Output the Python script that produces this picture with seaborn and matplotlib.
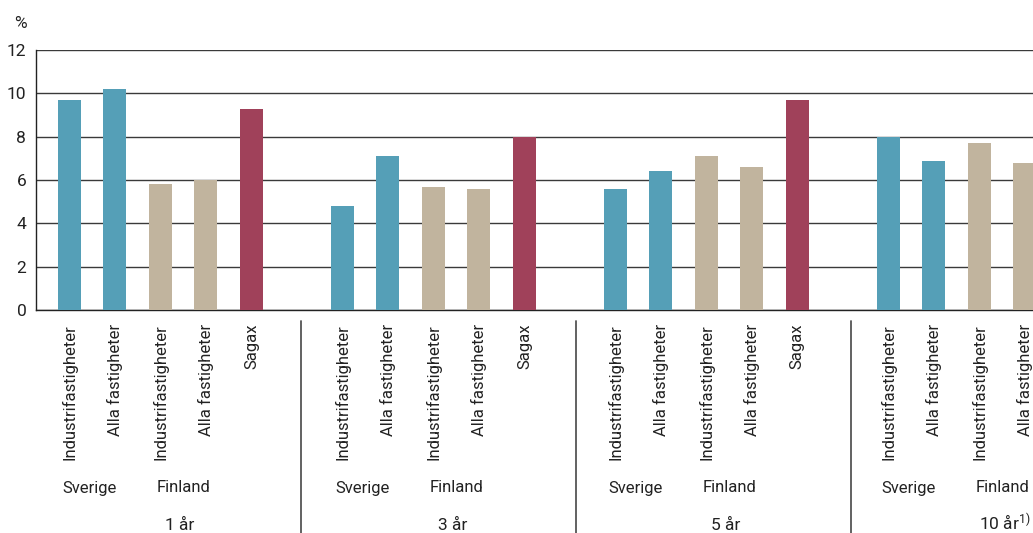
import numpy as np
import pandas as pd
import matplotlib
matplotlib.use("Agg")
import matplotlib.pyplot as plt
import matplotlib.transforms as mtransforms
import seaborn as sns

# ---- data ----
periods = ["1 år", "3 år", "5 år", "10 år"]
bar_labels = ["Industrifastigheter", "Alla fastigheter", "Industrifastigheter", "Alla fastigheter", "Sagax"]
bar_kinds = ["Sverige", "Sverige", "Finland", "Finland", "Sagax"]
values_1ar = [9.7, 10.2, 5.8, 6.0, 9.3]
values_3ar = [4.8, 7.1, 5.7, 5.6, 8.0]
values_5ar = [5.6, 6.4, 7.1, 6.6, 9.7]
values_10ar = [8.0, 6.9, 7.7, 6.8]
region_labels = ["Sverige", "Finland"]
y_ticks = [0, 2, 4, 6, 8, 10, 12]

colors = {"Sverige": "#559FB7", "Finland": "#C1B49E", "Sagax": "#A0415A"}

rows = []
for g, vals in enumerate([values_1ar, values_3ar, values_5ar, values_10ar]):
    for i, v in enumerate(vals):
        rows.append({"pos": g * 6 + i, "value": v, "kind": bar_kinds[i], "label": bar_labels[i]})
df = pd.DataFrame(rows)

sns.set_theme(style="white")
plt.rcParams["font.family"] = ["Roboto", "DejaVu Sans"]
plt.rcParams["text.color"] = "#222222"
plt.rcParams["mathtext.default"] = "regular"

fig = plt.figure(figsize=(10.33, 5.33), dpi=100)
ax = fig.add_axes([36 / 1033, 1 - 310 / 533, 1 - 36 / 1033, 260 / 533])

sns.barplot(data=df, x="pos", y="value", hue="kind", palette=colors, native_scale=True,
            width=0.505, dodge=False, legend=False, saturation=1, linewidth=0,
            edgecolor="none", ax=ax, zorder=3)

fs = 12
ax.set_xlim(-0.736, 21.18)
ax.set_ylim(0, 12)
ax.set_yticks(y_ticks)
ax.set_yticklabels([str(t) for t in y_ticks], fontsize=12.5, color="#222222")
ax.set_xticks(df["pos"])
ax.set_xticklabels(df["label"], rotation=90, fontsize=fs, color="#222222", va="top", ha="center")
ax.tick_params(axis="x", length=0, pad=10)
ax.tick_params(axis="y", length=0, pad=7)
ax.set_xlabel("")
ax.set_ylabel("")
ax.yaxis.grid(True, color="#3a3a3a", lw=1.0, zorder=0)
ax.set_axisbelow(True)
for s in ["top", "right"]:
    ax.spines[s].set_visible(False)
for s in ["left", "bottom"]:
    ax.spines[s].set_color("#222222")
    ax.spines[s].set_linewidth(1.0)

fig.text(20 / 1033, 1 - 24 / 533, "%", fontsize=12.5, ha="center", va="center")

trans = mtransforms.blended_transform_factory(ax.transData, fig.transFigure)
for g in range(4):
    base = g * 6
    ax.text(base + 0.45, 1 - 488 / 533, region_labels[0], transform=trans, ha="center", va="center", fontsize=fs)
    ax.text(base + 2.5, 1 - 488 / 533, region_labels[1], transform=trans, ha="center", va="center", fontsize=fs)
    label = periods[g] + (r"$^{1)}$" if g == 3 else "")
    ax.text(base + 2.42 + (0.15 if g == 3 else 0), 3 / 533, label, transform=trans, ha="center",
            va="baseline", fontsize=12.5, clip_on=False)

for xs in [5.09, 11.13, 17.18]:
    ax.plot([xs, xs], [1 - 321 / 533, 0], transform=trans, color="#555555", lw=1.3, clip_on=False)

fig.savefig("out.png", dpi=100)
